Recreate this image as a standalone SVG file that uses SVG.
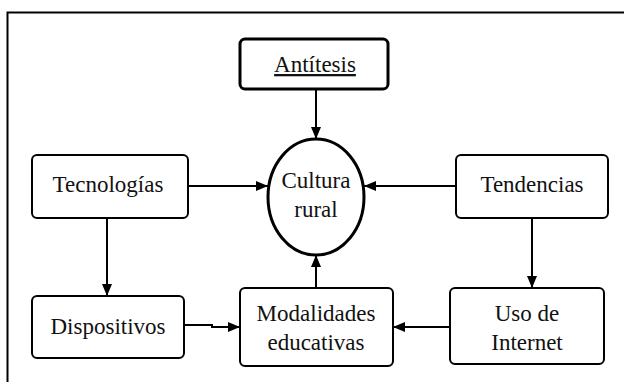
<svg xmlns="http://www.w3.org/2000/svg" width="624" height="382" viewBox="0 0 624 382">
<defs>
<style>
.box{fill:#fff;stroke:#000;stroke-width:2}
text{font-family:'Liberation Serif','Times New Roman','DejaVu Serif',serif;font-size:23px;fill:#111;text-anchor:middle}
.c{fill:none;stroke:#000;stroke-width:2}
</style>
<marker id="ah" viewBox="0 0 12 10" refX="12" refY="5" markerWidth="12" markerHeight="10" markerUnits="userSpaceOnUse" orient="auto">
<path d="M0,0 L12,5 L0,10 Z" fill="#000"/>
</marker>
</defs>
<rect width="624" height="382" fill="#fff"/>
<path d="M7.5,382 V12.5 H624" fill="none" stroke="#000" stroke-width="2"/>
<g id="connectors">
<path class="c" d="M316,89 V139" marker-end="url(#ah)"/>
<path class="c" d="M188,186 H268" marker-end="url(#ah)"/>
<path class="c" d="M456,186 H364" marker-end="url(#ah)"/>
<path class="c" d="M107,218 V296" marker-end="url(#ah)"/>
<path class="c" d="M532,218 V288" marker-end="url(#ah)"/>
<path class="c" d="M316,288 V255" marker-end="url(#ah)"/>
<path class="c" d="M184,325 H212 V327 H240" marker-end="url(#ah)"/>
<path class="c" d="M450,327 H393" marker-end="url(#ah)"/>
</g>
<g id="antitesis">
<rect class="box" x="240" y="39" width="148" height="50" rx="5" style="stroke-width:3"/>
<text x="315" y="72" text-decoration="underline">Antítesis</text>
</g>
<g id="cultura">
<ellipse cx="316" cy="197" rx="48" ry="58" fill="#fff" stroke="#000" stroke-width="3"/>
<text x="316" y="188">Cultura</text>
<text x="316" y="217">rural</text>
</g>
<g id="tecnologias">
<rect class="box" x="32" y="155" width="156" height="63" rx="5"/>
<text x="108" y="192">Tecnologías</text>
</g>
<g id="tendencias">
<rect class="box" x="456" y="155" width="152" height="63" rx="5"/>
<text x="532" y="192">Tendencias</text>
</g>
<g id="dispositivos">
<rect class="box" x="32" y="296" width="152" height="62" rx="5"/>
<text x="108" y="334">Dispositivos</text>
</g>
<g id="modalidades">
<rect class="box" x="240" y="288" width="153" height="78" rx="5"/>
<text x="316" y="321">Modalidades</text>
<text x="316" y="350">educativas</text>
</g>
<g id="uso">
<rect class="box" x="450" y="288" width="154" height="76" rx="5"/>
<text x="527" y="321">Uso de</text>
<text x="527" y="350">Internet</text>
</g>
</svg>
